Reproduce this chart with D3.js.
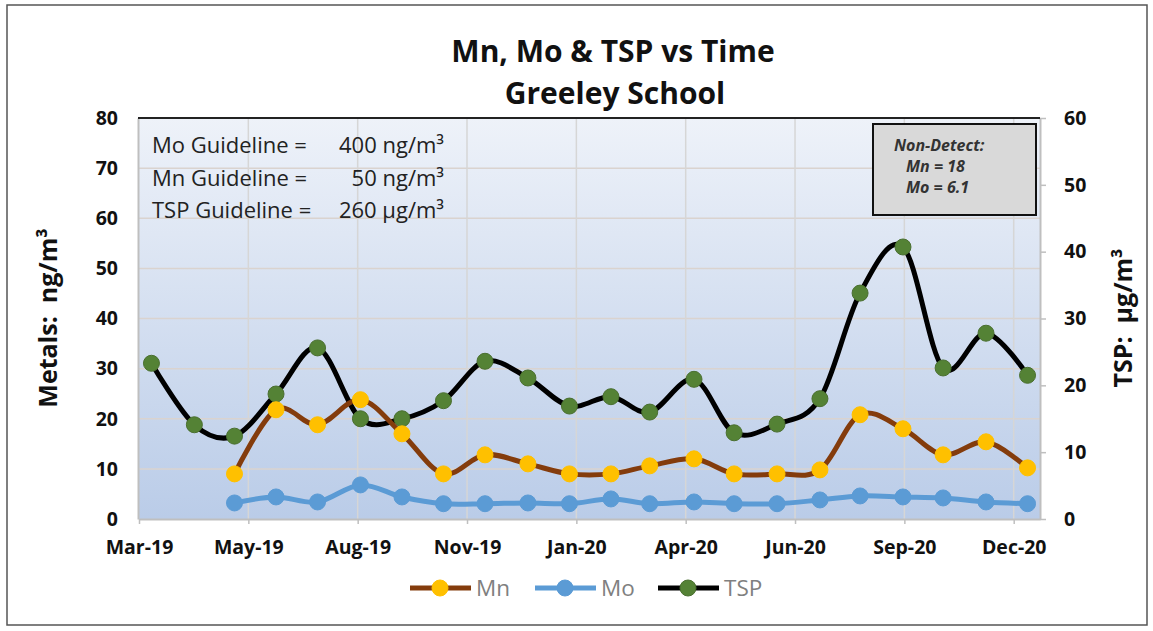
<!DOCTYPE html>
<html lang="en">
<head>
<meta charset="UTF-8">
<title>Mn, Mo &amp; TSP vs Time</title>
<script src="https://d3js.org/d3.v7.min.js"></script>
<style>
  body { margin: 0; background: #fff; }
  text { font-family: "Open Sans", "Liberation Sans", sans-serif; }
  .tick-label { font-size: 19.5px; font-weight: bold; fill: #111; }
  .axis-title { font-size: 25px; font-weight: bold; fill: #111; white-space: pre; }
  .title { font-size: 30px; font-weight: bold; fill: #111; text-anchor: middle; }
  .guide { font-size: 22px; fill: #222; }
  .nd { font-size: 16px; font-weight: bold; font-style: italic; fill: #333; }
  .legend-text { font-size: 22.5px; fill: #808080; }
</style>
</head>
<body>
<script>
// sample dates and readings
var sampleDates = ["2019-03-21","2019-04-21","2019-05-20","2019-06-19","2019-07-19","2019-08-19",
                   "2019-09-18","2019-10-18","2019-11-17","2019-12-18","2020-01-17","2020-02-16",
                   "2020-03-15","2020-04-16","2020-05-15","2020-06-15","2020-07-16","2020-08-14",
                   "2020-09-14","2020-10-13","2020-11-13","2020-12-13"];
var mnValues  = [null, null, 9, 21.8, 18.8, 23.8, 17.0, 9, 12.8, 11.0, 9, 9,
                 10.6, 12.0, 9, 9, 9.8, 20.8, 18.0, 12.8, 15.4, 10.2];
var moValues  = [null, null, 3.2, 4.4, 3.4, 6.8, 4.4, 3.05, 3.05, 3.2, 3.05, 4.0,
                 3.05, 3.4, 3.05, 3.05, 3.8, 4.6, 4.4, 4.2, 3.4, 3.05];
var tspValues = [23.3, 14.1, 12.4, 18.7, 25.6, 15.0, 15.0, 17.7, 23.6, 21.1, 16.9, 18.3,
                 16.0, 20.9, 12.9, 14.2, 18.0, 33.8, 40.7, 22.6, 27.8, 21.5];

// axis ticks
var xTickDates = ["2019-03-12","2019-05-30","2019-08-17","2019-11-04","2020-01-22",
                  "2020-04-10","2020-06-28","2020-09-15","2020-12-03"];
var leftTicks  = [0, 10, 20, 30, 40, 50, 60, 70, 80];
var rightTicks = [0, 10, 20, 30, 40, 50, 60];

var guidelines = [["Mo Guideline =", "400 ng/m³"],
                  ["Mn Guideline =", "50 ng/m³"],
                  ["TSP Guideline =", "260 µg/m³"]];
var nonDetect = ["Non-Detect:", "Mn = 18", "Mo = 6.1"];

var parse = d3.timeParse("%Y-%m-%d");
var fmt = d3.timeFormat("%b-%y");

var W = 1153, H = 631;
var pLeft = 138, pRight = 1040, pTop = 118, pBottom = 519;

var svg = d3.select("body").append("svg").attr("width", W).attr("height", H);

var x = d3.scaleTime()
    .domain([parse("2019-03-12"), parse("2020-12-22")])
    .range([pLeft + 1, pRight]);
var y = d3.scaleLinear().domain([0, 80]).range([pBottom, pTop]);
var yR = d3.scaleLinear().domain([0, 60]).range([pBottom, pTop]);

// outer frame
svg.append("rect").attr("x", 7).attr("y", 5).attr("width", 1140).attr("height", 620)
   .attr("fill", "none").attr("stroke", "#555").attr("stroke-width", 1.5);

// plot background
var grad = svg.append("defs").append("linearGradient")
    .attr("id", "bg").attr("x1", 0).attr("y1", 0).attr("x2", 0).attr("y2", 1);
grad.append("stop").attr("offset", "0%").attr("stop-color", "#eef2f9");
grad.append("stop").attr("offset", "100%").attr("stop-color", "#bacce8");
svg.append("rect").attr("x", pLeft).attr("y", pTop)
   .attr("width", pRight - pLeft).attr("height", pBottom - pTop).attr("fill", "url(#bg)");

// gridlines
svg.append("g").selectAll("line").data(leftTicks.slice(1)).enter().append("line")
   .attr("x1", pLeft).attr("x2", pRight)
   .attr("y1", function(d){ return y(d); }).attr("y2", function(d){ return y(d); })
   .attr("stroke", "#dad3cf").attr("stroke-width", 1.5);
svg.append("g").selectAll("line").data(xTickDates.slice(1)).enter().append("line")
   .attr("x1", function(d){ return x(parse(d)); }).attr("x2", function(d){ return x(parse(d)); })
   .attr("y1", pTop).attr("y2", pBottom)
   .attr("stroke", "#d6d6d6").attr("stroke-width", 1.5);

// axes
var xAxis = d3.axisBottom(x).tickValues(xTickDates.map(parse)).tickFormat(fmt)
    .tickSizeInner(5).tickSizeOuter(0).tickPadding(15);
var gx = svg.append("g").attr("transform", "translate(0," + pBottom + ")").call(xAxis);
gx.selectAll("text").attr("class", "tick-label").attr("dy", "0.75em");

var gl = svg.append("g").attr("transform", "translate(" + pLeft + ",0)")
    .call(d3.axisLeft(y).tickValues(leftTicks).tickSize(0).tickPadding(20));
gl.selectAll("text").attr("class", "tick-label").attr("text-anchor", "end");

var gr = svg.append("g").attr("transform", "translate(" + pRight + ",0)")
    .call(d3.axisRight(yR).tickValues(rightTicks).tickSizeInner(6).tickSizeOuter(0).tickPadding(18));
gr.selectAll("text").attr("class", "tick-label");

[gx, gl, gr].forEach(function(g){
  g.select(".domain").attr("stroke", "#bfbfbf").attr("stroke-width", 2);
  g.selectAll(".tick line").attr("stroke", "#bfbfbf").attr("stroke-width", 1.5);
});

// top border of plot area
svg.append("line").attr("x1", pLeft).attr("x2", pRight).attr("y1", pTop).attr("y2", pTop)
   .attr("stroke", "#222").attr("stroke-width", 2);

// axis titles
svg.append("text").attr("class", "axis-title")
   .attr("transform", "translate(57,318) rotate(-90)").attr("text-anchor", "middle")
   .text("Metals:  ng/m³");
svg.append("text").attr("class", "axis-title")
   .attr("transform", "translate(1132,318) rotate(-90)").attr("text-anchor", "middle")
   .text("TSP:  µg/m³");

// title
svg.append("text").attr("class", "title").attr("x", 613).attr("y", 62).text("Mn, Mo & TSP vs Time");
svg.append("text").attr("class", "title").attr("x", 615).attr("y", 104).text("Greeley School");

// guideline text box
var gg = svg.append("g").selectAll("g").data(guidelines).enter().append("g");
gg.append("text").attr("class", "guide").attr("x", 152)
  .attr("y", function(d, i){ return 153 + i * 32.5; }).text(function(d){ return d[0]; });
gg.append("text").attr("class", "guide").attr("x", 444).attr("text-anchor", "end")
  .attr("y", function(d, i){ return 153 + i * 32.5; }).text(function(d){ return d[1]; });

// non-detect box
svg.append("rect").attr("x", 873).attr("y", 124).attr("width", 163).attr("height", 91)
   .attr("fill", "#d9d9d9").attr("stroke", "#111").attr("stroke-width", 2);
svg.append("g").selectAll("text").data(nonDetect).enter().append("text")
   .attr("class", "nd")
   .attr("x", function(d, i){ return i === 0 ? 894 : 906; })
   .attr("y", function(d, i){ return 151 + i * 21; })
   .text(function(d){ return d; });

// series
var series = [
  { name: "Mn",  values: mnValues,  scale: y,  line: "#843c0c", fill: "#ffc000", stroke: "#ffc000" },
  { name: "Mo",  values: moValues,  scale: y,  line: "#5b9bd5", fill: "#5b9bd5", stroke: "#5b9bd5" },
  { name: "TSP", values: tspValues, scale: yR, line: "#000000", fill: "#548235", stroke: "#4a6f30" }
];

var drawOrder = [series[2], series[0], series[1]];
drawOrder.forEach(function(s){
  var pts = sampleDates.map(function(d, i){ return { date: parse(d), v: s.values[i] }; })
                       .filter(function(p){ return p.v !== null; });
  var line = d3.line()
      .x(function(p){ return x(p.date); })
      .y(function(p){ return s.scale(p.v); })
      .curve(d3.curveCatmullRom.alpha(0));
  svg.append("path").datum(pts).attr("d", line)
     .attr("fill", "none").attr("stroke", s.line).attr("stroke-width", 5)
     .attr("stroke-linejoin", "round");
  svg.append("g").selectAll("circle").data(pts).enter().append("circle")
     .attr("cx", function(p){ return x(p.date); })
     .attr("cy", function(p){ return s.scale(p.v); })
     .attr("r", 8).attr("fill", s.fill).attr("stroke", s.stroke).attr("stroke-width", 1);
});

// legend
var legendX = [410, 535, 658];
var lg = svg.append("g").selectAll("g").data(series).enter().append("g")
    .attr("transform", function(d, i){ return "translate(" + legendX[i] + ",588)"; });
lg.append("line").attr("x1", 0).attr("x2", 61).attr("y1", 0).attr("y2", 0)
  .attr("stroke", function(d){ return d.line; }).attr("stroke-width", 5);
lg.append("circle").attr("cx", 30).attr("cy", 0).attr("r", 8)
  .attr("fill", function(d){ return d.fill; }).attr("stroke", function(d){ return d.stroke; });
lg.append("text").attr("class", "legend-text").attr("x", 66).attr("y", 8).text(function(d){ return d.name; });
</script>
</body>
</html>
